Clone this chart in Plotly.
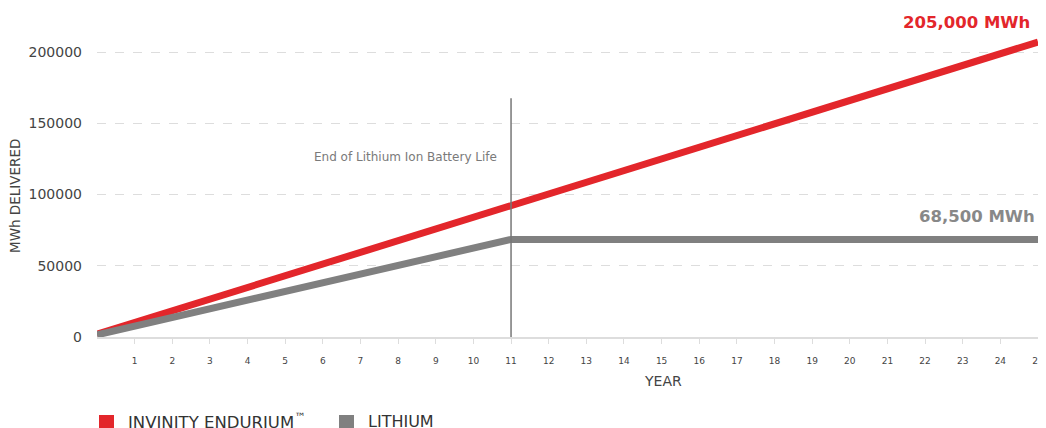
import plotly.graph_objects as go

years = list(range(0, 26))
endurium = [2000, 10200, 18400, 26600, 34800, 43000, 51200, 59400, 67600, 75800,
            84000, 92200, 100400, 108600, 116800, 125000, 133200, 141400, 149600,
            157800, 166000, 174200, 182400, 190600, 198800, 207000]
lithium_years = list(range(0, 12)) + [25]
lithium = [1500, 7600, 13700, 19800, 25900, 32000, 38100, 44200, 50300, 56400,
           62400, 68500, 68500]
y_ticks = [0, 50000, 100000, 150000, 200000]
x_ticks = list(range(1, 26))
end_of_life_year = 11

RED = "#E3262B"
GRAY = "#808080"
FONT = "DejaVu Sans"
TXT = "#444444"

# the page body adds an 8px offset; work in reference pixels and shift
OFF = 8
W, H = 1046 - OFF, 428 - OFF
PLOT_L, PLOT_R, PLOT_B = 97, 1038, 337  # reference pixels
L = PLOT_L - OFF
R = (1046 - OFF) - (PLOT_R - OFF)
B = H - (PLOT_B - OFF)
T = 0
PW, PH = W - L - R, H - T - B
Y_PER_PX = 200000 / 285.0
Y_TOP = PH * Y_PER_PX


def px_x(px):
    return (px - OFF - L) / PW


def px_y(py):
    return (H - B - (py - OFF)) / PH


fig = go.Figure()
fig.add_trace(go.Scatter(x=years, y=endurium, mode="lines",
                         line=dict(color=RED, width=7), name="INVINITY ENDURIUM",
                         showlegend=False, hoverinfo="skip"))
fig.add_trace(go.Scatter(x=lithium_years, y=lithium, mode="lines",
                         line=dict(color=GRAY, width=7), name="LITHIUM",
                         showlegend=False, hoverinfo="skip"))

# end-of-life vertical line
fig.add_shape(type="line", x0=end_of_life_year, x1=end_of_life_year, y0=0, y1=167500,
              xref="x", yref="y", line=dict(color="#777777", width=1.5), layer="above")

fig.add_annotation(x=end_of_life_year, y=126300, xref="x", yref="y",
                   text="End of Lithium Ion Battery Life",
                   showarrow=False, xanchor="right", xshift=-12, yanchor="middle",
                   font=dict(family=FONT, size=12, color="#7a7a7a"))
fig.add_annotation(x=25, y=221000, xref="x", yref="y", text="<b>205,000 MWh</b>",
                   showarrow=False, xanchor="right", yanchor="middle", xshift=-6,
                   font=dict(family=FONT, size=16.5, color=RED))
fig.add_annotation(x=25, y=84900, xref="x", yref="y", text="<b>68,500 MWh</b>",
                   showarrow=False, xanchor="right", yanchor="middle", xshift=-1,
                   font=dict(family=FONT, size=16.5, color="#888888"))

# axis titles
fig.add_annotation(x=px_x(663), y=px_y(381), xref="paper", yref="paper", text="YEAR",
                   showarrow=False, xanchor="center", yanchor="middle",
                   font=dict(family=FONT, size=14, color=TXT))
fig.add_annotation(x=px_x(15), y=px_y(196), xref="paper", yref="paper",
                   text="MWh DELIVERED", textangle=-90,
                   showarrow=False, xanchor="center", yanchor="middle",
                   font=dict(family=FONT, size=13.5, color=TXT))

# manual legend
fig.add_shape(type="rect", xref="paper", yref="paper",
              x0=px_x(99), x1=px_x(114), y0=px_y(430), y1=px_y(415),
              fillcolor=RED, line=dict(width=0))
fig.add_shape(type="rect", xref="paper", yref="paper",
              x0=px_x(339), x1=px_x(354), y0=px_y(430), y1=px_y(415),
              fillcolor=GRAY, line=dict(width=0))
fig.add_annotation(x=px_x(126), y=px_y(421), xref="paper", yref="paper",
                   text="INVINITY ENDURIUM<sup>™</sup>",
                   showarrow=False, xanchor="left", yanchor="middle",
                   font=dict(family=FONT, size=16.5, color="#333333"))
fig.add_annotation(x=px_x(366), y=px_y(421), xref="paper", yref="paper",
                   text="LITHIUM", showarrow=False, xanchor="left", yanchor="middle",
                   font=dict(family=FONT, size=16, color="#333333"))

fig.update_layout(
    width=W, height=H,
    margin=dict(l=L, r=R, t=T, b=B, autoexpand=False),
    paper_bgcolor="white", plot_bgcolor="white",
    font=dict(family=FONT, color=TXT),
    xaxis=dict(range=[0, 25], tickvals=x_ticks, ticktext=[str(v) for v in x_ticks],
               showgrid=False, zeroline=False, showline=True, linecolor="#dddddd",
               linewidth=1.5, ticks="outside", ticklen=5, tickcolor="#dddddd",
               tickfont=dict(family=FONT, size=9, color=TXT),
               ticklabelstandoff=9, automargin=False, ticklabeloverflow="allow"),
    yaxis=dict(range=[0, Y_TOP], tickvals=y_ticks, ticktext=[str(v) for v in y_ticks],
               showgrid=True, gridcolor="#dddddd", griddash="dash", gridwidth=1,
               zeroline=False, showline=False,
               tickfont=dict(family=FONT, size=14, color=TXT),
               ticklabelstandoff=14, automargin=False),
    showlegend=False,
)

fig.write_html("out.html")
